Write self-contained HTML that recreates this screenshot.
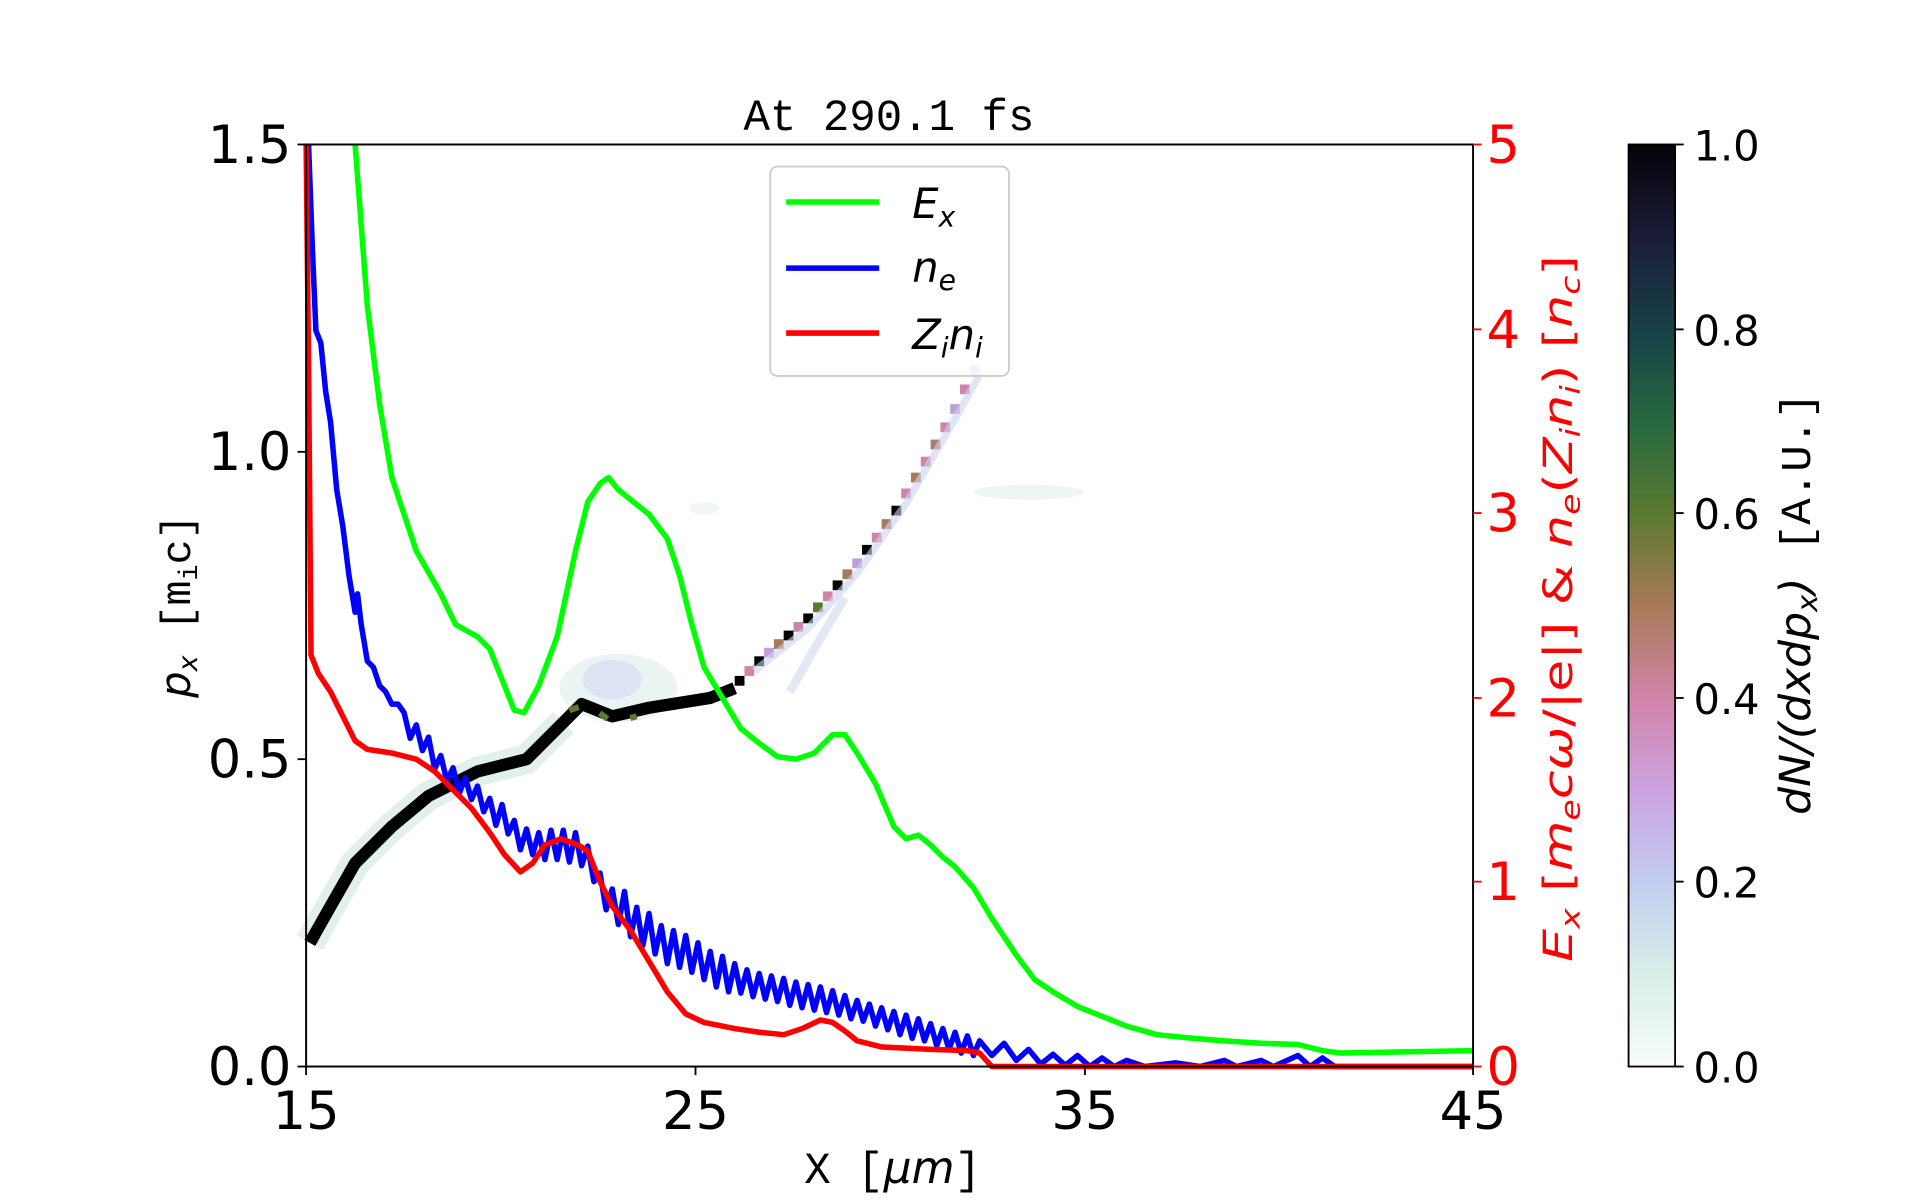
<!DOCTYPE html>
<html><head><meta charset="utf-8"><style>html,body{margin:0;padding:0;background:#fff}svg{display:block}</style></head>
<body>
<svg width="1920" height="1200" viewBox="0 0 1568 980" xmlns="http://www.w3.org/2000/svg">
<defs>
<linearGradient id="cb" x1="0" y1="1" x2="0" y2="0">
<stop offset="0" stop-color="#f8fcf8"/><stop offset="0.1" stop-color="#d8efe8"/><stop offset="0.2" stop-color="#c2cdf0"/>
<stop offset="0.3" stop-color="#cca2e0"/><stop offset="0.4" stop-color="#d084a8"/><stop offset="0.5" stop-color="#a87a58"/>
<stop offset="0.6" stop-color="#5a7a30"/><stop offset="0.7" stop-color="#276840"/><stop offset="0.8" stop-color="#184048"/>
<stop offset="0.9" stop-color="#1a1c38"/><stop offset="1" stop-color="#050308"/></linearGradient>
</defs>
<g>
<ellipse cx="505" cy="562" rx="48" ry="28" fill="#eaf4f2"/>
<ellipse cx="500" cy="555" rx="24" ry="16" fill="#d8def4" opacity="0.8"/>
<ellipse cx="575" cy="415" rx="12" ry="5" fill="#f0f7f4"/>
<ellipse cx="840" cy="402" rx="45" ry="6" fill="#eef6f2"/>
<polyline fill="none" stroke="#e2f0ec" stroke-width="24" stroke-linejoin="round" points="253,770 270,740 290,705 320,675 350,650 390,630 430,620 460,590"/>
<polyline fill="none" stroke="#e2e8f4" stroke-width="7" points="645,565 665,530 690,488"/>
<polyline fill="none" stroke="#d084a8" stroke-width="6" stroke-dasharray="8 30" points="256,770 270,740 290,705 320,675 350,650 390,630 430,620"/>
<polyline fill="none" stroke="#000" stroke-width="10" stroke-linejoin="round" points="253,770 270,740 290,705 320,675 350,650 390,630 430,620 460,590 475,575 500,585 530,578 580,570 600,562"/>
<polyline fill="none" stroke="#5a7a30" stroke-width="5" stroke-dasharray="8 20" points="465,580 480,575 500,590 520,585"/>
<g>
<rect x="600" y="552" width="8" height="8" fill="#000"/><rect x="608" y="544" width="8" height="8" fill="#d084a8"/><rect x="616" y="536" width="8" height="8" fill="#000"/><rect x="624" y="529" width="8" height="8" fill="#c0a0d8"/><rect x="632" y="522" width="8" height="8" fill="#a87a58"/><rect x="640" y="515" width="8" height="8" fill="#000"/><rect x="648" y="508" width="8" height="8" fill="#d084a8"/><rect x="656" y="501" width="8" height="8" fill="#000"/><rect x="664" y="492" width="8" height="8" fill="#5a7a30"/><rect x="672" y="483" width="8" height="8" fill="#d084a8"/><rect x="680" y="474" width="8" height="8" fill="#000"/><rect x="688" y="465" width="8" height="8" fill="#a87a58"/><rect x="696" y="456" width="8" height="8" fill="#c0a0d8"/><rect x="704" y="445" width="8" height="8" fill="#000"/><rect x="712" y="435" width="8" height="8" fill="#d084a8"/><rect x="720" y="424" width="8" height="8" fill="#a87a58"/><rect x="728" y="413" width="8" height="8" fill="#000"/><rect x="736" y="399" width="8" height="8" fill="#d084a8"/><rect x="744" y="386" width="8" height="8" fill="#a87a58"/><rect x="752" y="373" width="8" height="8" fill="#d084a8"/><rect x="760" y="359" width="8" height="8" fill="#b07a70"/><rect x="768" y="345" width="8" height="8" fill="#d084a8"/><rect x="776" y="330" width="8" height="8" fill="#c0a0d8"/><rect x="784" y="314" width="8" height="8" fill="#d084a8"/><rect x="792" y="298" width="8" height="8" fill="#c0a0d8"/>
</g>
<polyline fill="none" stroke="#ccd4f0" stroke-width="6" opacity="0.6" points="616,548 660,513 700,468 740,411 780,342 800,306"/>
</g>
<g fill="none" stroke-width="4.5" stroke-linejoin="round">
<polyline stroke="#00ff00" points="290,118 300,250 310,330 320,390 340,450 360,485 372,510 390,520 400,530 410,555 420,580 428,582 440,560 455,520 470,450 480,410 490,395 497,390 505,400 515,408 530,420 545,440 555,470 565,510 575,545 590,570 605,595 620,607 635,618 650,620 665,615 680,600 690,600 700,615 715,640 730,675 740,685 750,682 760,690 770,700 780,708 795,725 810,750 830,780 845,800 860,810 880,822 900,830 920,838 945,845 975,848 1000,850 1030,852 1060,853 1080,858 1095,860 1203,858"/>
<polyline stroke="#0000ff" points="252,118 255,200 258,270 262,280 266,320 270,345 275,400 280,430 285,470 290,500 292,485 295,510 300,540 305,545 310,560 315,565 320,575 325,575 330,582 335,603 340,592 345,613 350,602 355,628 360,617 365,638 370,627 375,648 380,635 385,653 390,642 395,663 400,652 405,674 410,657 415,681 420,670 425,694 430,677 435,698 440,680 445,702 450,678 455,702 460,678 465,704 470,680 475,707 480,691 485,720 490,713 495,743 500,726 505,755 510,728 515,765 520,741 525,772 530,746 535,779 540,756 545,787 550,760 555,790 560,764 565,794 570,770 575,800 580,777 585,806 590,781 595,810 600,787 605,811 610,792 615,814 620,795 625,816 630,797 635,818 640,799 645,821 650,802 655,823 660,804 665,825 670,806 675,827 680,809 685,829 690,813 695,832 700,817 705,834 710,820 715,838 720,823 725,841 730,826 735,845 740,829 745,848 750,832 755,850 760,836 765,854 770,840 775,857 780,843 785,860 790,846 795,862 800,850 810,862 820,852 830,866 840,857 850,869 860,861 870,870 880,862 890,871 900,864 910,871 920,866 935,871 960,868 980,871 1000,866 1010,871 1030,866 1040,871 1060,862 1070,871 1080,864 1090,871 1203,871"/>
<polyline stroke="#ff0000" points="250,118 252,300 254,535 260,550 270,565 280,585 290,605 300,612 320,615 340,620 355,630 370,645 385,660 400,680 412,698 425,712 435,705 445,690 458,685 472,690 480,695 490,720 500,740 515,760 530,785 545,810 560,828 575,835 600,840 620,843 640,845 655,840 670,833 680,835 690,842 700,850 720,855 760,857 790,858 800,860 810,871 1203,871"/>
</g>
<rect x="250" y="118" width="953" height="753" fill="none" stroke="#000" stroke-width="1.6"/>
<g stroke="#000" stroke-width="1.5">
<line x1="250" y1="871" x2="250" y2="878"/><line x1="568" y1="871" x2="568" y2="878"/><line x1="886" y1="871" x2="886" y2="878"/><line x1="1203" y1="871" x2="1203" y2="878"/>
<line x1="243" y1="871" x2="250" y2="871"/><line x1="243" y1="620" x2="250" y2="620"/><line x1="243" y1="369" x2="250" y2="369"/><line x1="243" y1="118" x2="250" y2="118"/>
</g>
<g stroke="#f00" stroke-width="1.5">
<line x1="1203" y1="871" x2="1210" y2="871"/><line x1="1203" y1="720" x2="1210" y2="720"/><line x1="1203" y1="570" x2="1210" y2="570"/><line x1="1203" y1="419" x2="1210" y2="419"/><line x1="1203" y1="269" x2="1210" y2="269"/><line x1="1203" y1="118" x2="1210" y2="118"/>
</g>
<g font-family="DejaVu Sans, Liberation Sans, sans-serif" font-size="43" fill="#000">
<text x="250" y="922" text-anchor="middle">15</text><text x="568" y="922" text-anchor="middle">25</text><text x="886" y="922" text-anchor="middle">35</text><text x="1203" y="922" text-anchor="middle">45</text>
<text x="238" y="886" text-anchor="end">0.0</text><text x="238" y="635" text-anchor="end">0.5</text><text x="238" y="384" text-anchor="end">1.0</text><text x="238" y="133" text-anchor="end">1.5</text>
</g>
<g font-family="DejaVu Sans, Liberation Sans, sans-serif" font-size="43" fill="#f00">
<text x="1214" y="886">0</text><text x="1214" y="735">1</text><text x="1214" y="585">2</text><text x="1214" y="434">3</text><text x="1214" y="284">4</text><text x="1214" y="133">5</text>
</g>
<text x="726" y="106" text-anchor="middle" font-family="Liberation Mono, monospace" font-size="36">At 290.1 fs</text>
<text x="729" y="966" text-anchor="middle" font-family="Liberation Mono, monospace" font-size="36">X [<tspan font-style="italic" font-family="DejaVu Sans">μm</tspan>]</text>
<text transform="translate(155,495) rotate(-90)" text-anchor="middle" font-family="Liberation Mono, monospace" font-size="34"><tspan font-style="italic" font-family="DejaVu Sans">p<tspan font-size="22" dy="6">x</tspan></tspan><tspan dy="-6"> [m</tspan><tspan font-size="22" dy="6">i</tspan><tspan dy="-6">c]</tspan></text>
<text transform="translate(1284,497) rotate(-90)" text-anchor="middle" font-family="DejaVu Sans, sans-serif" font-size="33" fill="#f00" textLength="577" lengthAdjust="spacingAndGlyphs"><tspan font-style="italic">E<tspan font-size="22" dy="6">x</tspan></tspan><tspan dy="-6">  [</tspan><tspan font-style="italic">m<tspan font-size="22" dy="6">e</tspan><tspan dy="-6">cω</tspan></tspan>/|e|]  &amp;  <tspan font-style="italic">n<tspan font-size="22" dy="6">e</tspan></tspan><tspan dy="-6">(</tspan><tspan font-style="italic">Z<tspan font-size="22" dy="6">i</tspan><tspan dy="-6">n</tspan><tspan font-size="22" dy="6">i</tspan></tspan><tspan dy="-6">)  [</tspan><tspan font-style="italic">n<tspan font-size="22" dy="6">c</tspan></tspan><tspan dy="-6">]</tspan></text>
<rect x="629" y="136" width="195" height="171" rx="6" fill="#fff" fill-opacity="0.85" stroke="#ccc" stroke-width="1.5"/>
<g stroke-width="4.5"><line x1="642" y1="165" x2="718" y2="165" stroke="#00ff00"/><line x1="642" y1="219" x2="718" y2="219" stroke="#0000ff"/><line x1="642" y1="272" x2="718" y2="272" stroke="#ff0000"/></g>
<g font-family="DejaVu Sans, sans-serif" font-size="34" font-style="italic">
<text x="745" y="178">E<tspan font-size="23" dy="7">x</tspan></text>
<text x="745" y="230">n<tspan font-size="23" dy="7">e</tspan></text>
<text x="745" y="285">Z<tspan font-size="23" dy="7">i</tspan><tspan dy="-7">n</tspan><tspan font-size="23" dy="7">i</tspan></text>
</g>
<rect x="1330" y="118" width="38" height="753" fill="url(#cb)" stroke="#000" stroke-width="1.5"/>
<g stroke="#000" stroke-width="1.5">
<line x1="1368" y1="118" x2="1375" y2="118"/><line x1="1368" y1="269" x2="1375" y2="269"/><line x1="1368" y1="419" x2="1375" y2="419"/><line x1="1368" y1="570" x2="1375" y2="570"/><line x1="1368" y1="720" x2="1375" y2="720"/><line x1="1368" y1="871" x2="1375" y2="871"/>
</g>
<g font-family="DejaVu Sans, sans-serif" font-size="34">
<text x="1383" y="131">1.0</text><text x="1383" y="282">0.8</text><text x="1383" y="432">0.6</text><text x="1383" y="583">0.4</text><text x="1383" y="733">0.2</text><text x="1383" y="884">0.0</text>
</g>
<text transform="translate(1478,493) rotate(-90)" text-anchor="middle" font-family="Liberation Mono, monospace" font-size="35" textLength="345" lengthAdjust="spacingAndGlyphs"><tspan font-style="italic" font-family="DejaVu Sans">dN/(dxdp<tspan font-size="23" dy="6">x</tspan><tspan dy="-6">)</tspan></tspan>  [A.U.]</text>
</svg>
</body></html>
